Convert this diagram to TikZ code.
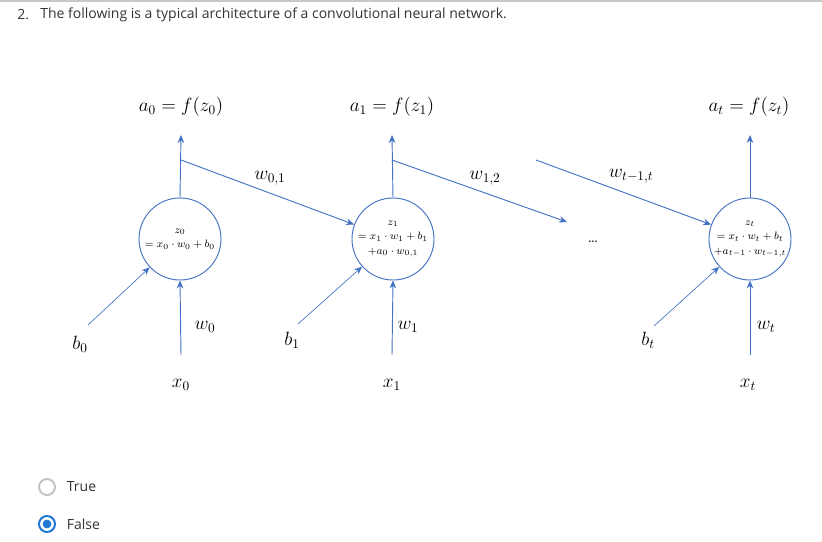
\documentclass[tikz,border=0pt]{standalone}
\usepackage{fontspec}
\newfontfamily\uifont{Open Sans}
\usepackage{tikz}
\usetikzlibrary{arrows.meta, positioning}
\definecolor{nnblue}{RGB}{68,114,196}
\definecolor{textgray}{RGB}{51,51,51}
\definecolor{rulegray}{RGB}{200,200,200}
\definecolor{radiogray}{RGB}{196,196,196}
\definecolor{radioblue}{RGB}{35,119,212}

\begin{document}
\begin{tikzpicture}[
      x=0.75pt, y=-0.75pt,
      neuron/.style={circle, draw=nnblue, line width=0.7pt, minimum size=61.5pt, inner sep=0pt, align=center, font=\fontsize{8.2}{10.8}\selectfont},
      bigmath/.style={font=\fontsize{14.5}{16}\selectfont, inner sep=1pt},
      wlabel/.style={font=\fontsize{14.5}{16}\selectfont, inner sep=1pt},
      link/.style={-{Stealth[length=6pt, width=5pt]}, nnblue, line width=0.7pt},
      uitext/.style={font=\uifont\fontsize{10.5}{12}\selectfont, text=textgray, anchor=west, inner sep=0pt},
    ]
    \useasboundingbox (0,0) rectangle (822,542);
    \draw[rulegray, line width=1.2pt] (0,1) -- (822,1);

    % question
    \node[uitext] (num) at (17,15) {2.};
    \node[uitext] (question) at (40,15) {The following is a typical architecture of a convolutional neural network.};

    % neurons
    \node[neuron] (n0) at (180,239) {$z_0$\\$= x_0\cdot w_0 + b_0$};
    \node[neuron] (n1) at (393,239) {$z_1$\\$= x_1\cdot w_1 + b_1$\\$+a_0\cdot w_{0,1}$};
    \node[neuron] (nt) at (750,239) {$z_t$\\$= x_t\cdot w_t + b_t$\\$+a_{t-1}\cdot w_{t-1,t}$};
    \node[font=\uifont\bfseries\fontsize{8}{9}\selectfont, text=textgray] (dots) at (593,242) {...};

    % outputs
    \node[bigmath] (a0) at (181,107) {$a_0 = f(z_0)$};
    \node[bigmath] (a1) at (392,107) {$a_1 = f(z_1)$};
    \node[bigmath] (at) at (749,107) {$a_t = f(z_t)$};
    \coordinate (a0tip) at (181,135);
    \coordinate (a1tip) at (392,135);
    \coordinate (attip) at (750,135);
    \draw[link] (n0.north) -- (a0tip);
    \draw[link] (n1.north) -- (a1tip);
    \draw[link] (nt.north) -- (attip);

    % links between neurons
    \coordinate (s0) at (181,160);
    \coordinate (s1) at (392,160);
    \coordinate (e12) at (567,222);
    \coordinate (st) at (536,160);
    \draw[link] (s0) -- (n1);
    \draw[link] (s1) -- (e12);
    \draw[link] (st) -- (nt);
    \node[wlabel] (w01) at (270,178) {$w_{0,1}$};
    \node[wlabel] (w12) at (485,178) {$w_{1,2}$};
    \node[wlabel] (wt) at (631,176) {$w_{t-1,t}$};

    % biases
    \node[bigmath] (b0) at (80,344) {$b_0$};
    \node[bigmath] (b1) at (292,340) {$b_1$};
    \node[bigmath] (bt) at (648,340) {$b_t$};
    \coordinate (bb0) at (88,325);
    \coordinate (bb1) at (298,324);
    \coordinate (bbt) at (654,326);
    \draw[link, line width=0.5pt] (bb0) -- (n0);
    \draw[link, line width=0.5pt] (bb1) -- (n1);
    \draw[link, line width=0.5pt] (bbt) -- (nt);

    % inputs
    \node[bigmath] (x0) at (181,385) {$x_0$};
    \node[bigmath] (x1) at (392,385) {$x_1$};
    \node[bigmath] (xt) at (748,385) {$x_t$};
    \coordinate (xx0) at (181,355);
    \coordinate (xx1) at (392,355);
    \coordinate (xxt) at (750,355);
    \draw[link] (xx0) -- (n0.south);
    \draw[link] (xx1) -- (n1.south);
    \draw[link] (xxt) -- (nt.south);
    \node[wlabel] (w0) at (205,327) {$w_0$};
    \node[wlabel] (w1) at (408,327) {$w_1$};
    \node[wlabel] (wtt) at (766,327) {$w_t$};

    % answers
    \node[circle, draw=radiogray, line width=1.5pt, minimum size=12pt, inner sep=0pt] (optTrue) at (47,487) {};
    \node[circle, draw=radioblue, line width=1.5pt, minimum size=12pt, inner sep=0pt] (optFalse) at (47,524) {};
    \fill[radioblue] (optFalse) circle (3.3pt);
    \node[uitext, right=8pt of optTrue.east, anchor=west] (lblTrue) {True};
    \node[uitext, right=8pt of optFalse.east, anchor=west] (lblFalse) {False};
  \end{tikzpicture}
\end{document}
